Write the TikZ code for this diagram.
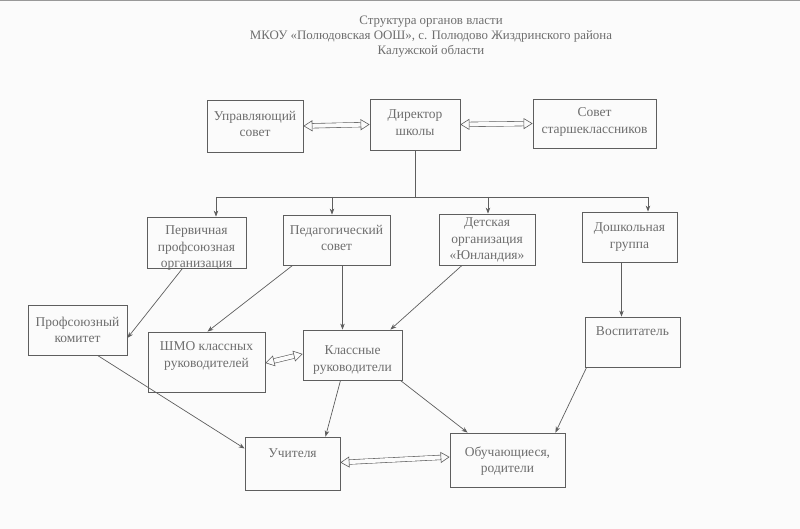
\documentclass[tikz,border=0pt]{standalone}
\usepackage{fontspec}
\setmainfont{Liberation Serif}
\usetikzlibrary{arrows.meta}
\definecolor{ln}{HTML}{5E5E5E}
\definecolor{tx}{HTML}{6E6E6E}
\definecolor{bg}{HTML}{FBFBFB}
\newcommand{\bxc}[4]{\parbox[c][#2pt][t]{#1pt}{\centering\vspace*{#3pt}#4\par}}
\tikzset{
  box/.style={draw=ln, line width=0.8pt, inner sep=0pt, text=tx, font=\fontsize{13.5}{16.3}\selectfont},
  arr/.style={draw=ln, line width=0.7pt, -{Stealth[length=6pt,width=4.5pt]}},
  ln/.style={draw=ln, line width=0.7pt},
  dbl/.style={draw=ln, line width=0.6pt, double=bg, double distance=4pt,
    {Triangle[open, fill=bg, length=9pt, width=11pt, line width=0.6pt]}-{Triangle[open, fill=bg, length=9pt, width=11pt, line width=0.6pt]}},
}
\begin{document}
\begin{tikzpicture}[x=1pt,y=-1pt]
\fill[bg] (0,0) rectangle (800,529);
\useasboundingbox (0,0) rectangle (800,529);
\draw[ln, draw=black!40, line width=1pt] (0,0.5) -- (800,0.5);

\node[text=tx, align=center, font=\fontsize{12.9}{15}\selectfont] (title) at (431,37)
 {Структура органов власти\\МКОУ «Полюдовская ООШ», с. Полюдово Жиздринского района\\Калужской области};

\node[box] (upr) at (255,126) {\bxc{96}{52}{11}{Управляющий\\совет}};
\node[box] (dir) at (415,124.5) {\bxc{90}{51}{11}{Директор\\школы}};
\node[box] (sov) at (594.5,123.5) {\bxc{123}{49}{9}{Совет\\старшеклассников}};

\node[box] (perv) at (196.5,242.5) {\bxc{99}{51}{9}{Первичная\\профсоюзная\\организация}};
\node[box] (ped) at (336.5,240) {\bxc{107}{50}{10}{Педагогический\\совет}};
\node[box] (det) at (487,239.5) {\bxc{96}{51}{4}{Детская\\организация\\«Юнландия»}};
\node[box] (dosh) at (629.5,237) {\bxc{95}{50}{11}{Дошкольная\\группа}};

\node[box] (prof) at (77.5,330) {\bxc{99}{50}{12}{Профсоюзный\\комитет}};
\node[box] (shmo) at (206.5,362) {\bxc{117}{60}{10}{ШМО классных\\руководителей}};
\node[box] (kl) at (352.5,355) {\bxc{99}{50}{16}{Классные\\руководители}};
\node[box] (vos) at (632.5,342) {\bxc{95}{50}{10}{Воспитатель}};

\node[box] (uch) at (292.5,463.5) {\bxc{95}{53}{12}{Учителя}};
\node[box] (obu) at (507.5,460) {\bxc{115}{54}{14}{Обучающиеся,\\родители}};

% double arrows
\draw[dbl] (upr.east) -- (dir.west);
\draw[dbl] (dir.east) -- (sov.west);
\draw[dbl] ([yshift=-1pt]shmo.east) -- ([yshift=1pt]kl.west);
\draw[dbl] ([yshift=1pt]uch.east) -- ([yshift=3pt]obu.west);

% tree from director
\coordinate (a1) at (216,197);
\coordinate (a2) at (332,197);
\coordinate (a3) at (488,197);
\coordinate (a4) at (648,197);
\draw[ln] (dir.south) -- (dir.south |- a1);
\draw[ln] (a1) -- (a4);
\draw[arr] (a1) -- (a1 |- perv.north);
\draw[arr] (a2) -- (a2 |- ped.north);
\draw[arr] (a3) -- (a3 |- det.north);
\draw[arr] (a4) -- (a4 |- dosh.north);

% diagonal connectors
\draw[arr] ([xshift=-14pt]perv.south) -- ([yshift=-8pt]prof.east);
\draw[arr] ([xshift=10pt]ped.south west) -- ([xshift=1pt]shmo.north);
\draw[arr] ([xshift=6pt]ped.south) -- ([xshift=-10pt]kl.north);
\draw[arr] ([xshift=-25pt]det.south) -- ([xshift=-12pt]kl.north east);
\draw[arr] ([xshift=-8pt]dosh.south) -- ([xshift=-11pt]vos.north);
\draw[arr] ([xshift=20pt]prof.south) -- ([yshift=15pt]uch.west);
\draw[arr] ([xshift=-12pt]kl.south) -- ([xshift=33pt]uch.north);
\draw[arr] ([xshift=-2pt]kl.south east) -- ([xshift=18pt]obu.north west);
\draw[arr] ([xshift=2pt]vos.south west) -- ([xshift=-10pt]obu.north east);
\end{tikzpicture}
\end{document}
